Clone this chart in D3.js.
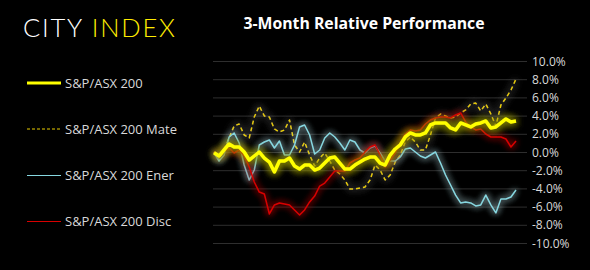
<!DOCTYPE html>
<html>
<head>
<meta charset="utf-8">
<script src="https://cdn.jsdelivr.net/npm/d3@7"></script>
<style>
  body { margin: 0; background: #000; }
  svg { display: block; }
</style>
</head>
<body>
<div class="svg"></div>
<script>
// Series values, % change over the 3 months (one value per trading day)
var asx200 = [-0.08,-0.44,0.22,0.88,0.55,0.55,0.0,-0.88,-0.44,0.0,-0.66,-1.1,-2.2,-0.99,-0.99,-0.66,-1.54,-1.87,-1.43,-1.43,
  -1.98,-1.76,-1.21,-0.66,-0.55,-1.21,-1.87,-1.87,-1.43,-1.1,-0.77,-0.55,-0.55,-1.21,-1.43,-0.33,0.33,0.77,1.65,2.09,
  1.87,1.87,2.09,2.97,3.19,3.19,3.19,2.64,2.42,3.19,2.97,2.75,3.08,3.19,3.41,2.64,2.75,3.19,3.63,3.3,3.41];
var materials = [0,-0.88,0.22,1.54,2.86,3.08,1.87,1.54,3.85,5.05,3.96,3.85,2.53,2.2,2.42,3.52,0.77,0,1.1,-0.33,
  -1.54,-0.66,-0.11,-0.99,-1.98,-2.42,-3.08,-4.07,-4.07,-3.96,-3.85,-3.08,-1.43,-1.98,-3.08,-2.53,-1.1,-0.33,1.1,1.65,
  1.1,0.22,0.22,1.87,3.74,4.18,3.96,3.74,3.85,4.29,4.62,5.27,5.38,4.51,5.27,4.18,2.86,5.16,5.93,6.81,8.02];
var energy = [-0.11,-0.99,-0.33,1.65,2.09,0.99,-1.43,-3.08,-1.98,0.77,1.1,1.32,0.44,1.21,-0.33,-0.33,0.77,2.75,2.97,1.87,
  -0.22,0.22,1.54,2.09,1.65,0.99,0.22,1.32,1.1,0.22,-0.11,0.44,0.66,-0.11,-0.99,-0.99,-0.99,-0.55,0.33,0.44,
  0,-0.44,-0.66,-0.33,0,-1.21,-2.53,-3.63,-4.73,-5.6,-5.49,-5.6,-5.93,-5.82,-4.73,-5.82,-6.7,-5.16,-5.16,-4.95,-4.18];
var discretionary = [0,-0.44,0.11,0.44,-0.11,0.22,-0.44,-1.65,-3.3,-4.4,-4.62,-6.81,-5.82,-5.6,-5.71,-5.82,-6.37,-6.92,-6.37,-5.49,
  -4.84,-3.74,-3.41,-2.75,-2.09,-2.09,-2.09,-1.21,-0.88,-0.66,0,0.55,0.77,-0.33,-1.65,-0.88,-0.11,0.99,1.98,2.42,
  2.31,2.42,3.08,3.52,3.74,3.85,3.85,3.74,4.07,4.29,3.3,2.75,2.42,2.53,1.98,1.65,1.65,1.65,1.43,0.55,1.21];

var seriesNames = ["S&P/ASX 200", "S&P/ASX 200 Mate", "S&P/ASX 200 Ener", "S&P/ASX 200 Disc"];
var yTicks = [10, 8, 6, 4, 2, 0, -2, -4, -6, -8, -10];

var width = 590, height = 270;
var svg = d3.select(".svg").append("svg").attr("width", width).attr("height", height)
  .style("background", "#000");

var x = d3.scaleLinear().domain([0, asx200.length - 1]).range([214, 516]);
var y = d3.scaleLinear().domain([-10, 10]).range([243, 61]);

// glow filters
var defs = svg.append("defs");
function glow(id, color, dev, op) {
  var f = defs.append("filter").attr("id", id).attr("x", "-20%").attr("y", "-50%").attr("width", "140%").attr("height", "200%");
  f.append("feGaussianBlur").attr("in", "SourceAlpha").attr("stdDeviation", dev).attr("result", "b");
  f.append("feFlood").attr("flood-color", color).attr("flood-opacity", op);
  f.append("feComposite").attr("in2", "b").attr("operator", "in").attr("result", "g");
  var m = f.append("feMerge");
  m.append("feMergeNode").attr("in", "g");
  m.append("feMergeNode").attr("in", "g");
  m.append("feMergeNode").attr("in", "g");
  m.append("feMergeNode").attr("in", "SourceGraphic");
}
glow("gMain", "#9a9a00", 4.5, 0.9);
glow("gMat", "#a8a8a8", 4, 0.55);
glow("gEner", "#c0eaf0", 3.5, 0.55);
glow("gDisc", "#b00000", 3.5, 0.75);

// logo
svg.append("text").attr("x", 23).attr("y", 37).attr("font-family", "Lato, 'Open Sans', sans-serif")
  .attr("font-weight", 300).attr("font-size", "25.5px").attr("letter-spacing", "1.8px")
  .call(function(t) {
    t.append("tspan").attr("fill", "#ffffff").text("CITY ");
    t.append("tspan").attr("fill", "#ffec00").text("INDEX");
  });

// title
svg.append("text").attr("x", 364).attr("y", 29).attr("text-anchor", "middle")
  .attr("font-family", "'Open Sans', sans-serif").attr("font-weight", "bold").attr("font-size", "15.8px")
  .attr("fill", "#ffffff").text("3-Month Relative Performance");

// gridlines + y labels
svg.append("g").selectAll("line").data(yTicks).enter().append("line")
  .attr("x1", 213).attr("x2", 527)
  .attr("y1", function(d) { return y(d) + 0.5; }).attr("y2", function(d) { return y(d) + 0.5; })
  .attr("stroke", "#2e2e2e").attr("stroke-width", 1);

svg.append("g").selectAll("text").data(yTicks).enter().append("text")
  .attr("x", 532).attr("y", function(d) { return y(d) + 4.5; })
  .attr("font-family", "'Open Sans', sans-serif").attr("font-size", "12px").attr("fill", "#d9d9d9")
  .text(function(d) { return d.toFixed(1) + "%"; });

var line = d3.line().x(function(d, i) { return x(i); }).y(function(d) { return y(d); });

var styles = [
  { data: asx200, color: "#ffff00", w: 3.5, dash: null, filter: "gMain" },
  { data: materials, color: "#e8cc00", w: 1.5, dash: "4,3", filter: "gMat" },
  { data: energy, color: "#86d7e0", w: 1.5, dash: null, filter: "gEner" },
  { data: discretionary, color: "#d80000", w: 1.5, dash: null, filter: "gDisc" }
];

// draw order: materials, energy, discretionary, index on top
[1, 2, 3, 0].forEach(function(k) {
  var s = styles[k];
  svg.append("path").datum(s.data).attr("d", line)
    .attr("fill", "none").attr("stroke", s.color).attr("stroke-width", s.w)
    .attr("stroke-dasharray", s.dash).attr("stroke-linejoin", "round")
    .attr("filter", "url(#" + s.filter + ")");
});

// legend
var legendY = [83, 129, 175.5, 221.5];
seriesNames.forEach(function(name, i) {
  var s = styles[i];
  svg.append("line").attr("x1", 27).attr("x2", 61).attr("y1", legendY[i]).attr("y2", legendY[i])
    .attr("stroke", s.color).attr("stroke-width", i == 0 ? 3 : 1).attr("stroke-dasharray", i == 1 ? "3,2" : null);
  svg.append("text").attr("x", 65).attr("y", legendY[i] + 4.5)
    .attr("font-family", "'Open Sans', sans-serif").attr("font-size", "13px").attr("fill", "#d9d9d9")
    .text(name);
});
</script>
</body>
</html>
